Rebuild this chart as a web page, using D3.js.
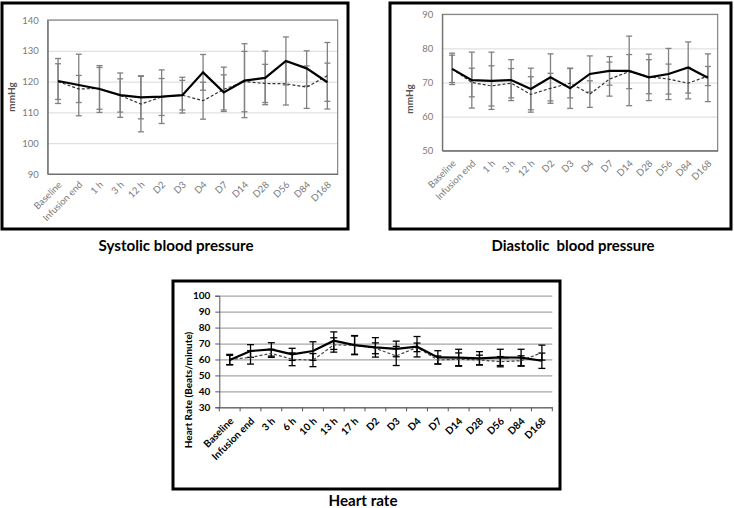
<!DOCTYPE html>
<html><head><meta charset="utf-8">
<script src="https://cdn.jsdelivr.net/npm/d3@7"></script>
<style>body{margin:0;background:#fff}svg{display:block}</style>
</head><body><svg id="c" width="734" height="508"></svg>
<script>
// ---------- DATA ----------
const bpCategories = ["Baseline","Infusion end","1 h","3 h","12 h","D2","D3","D4","D7","D14","D28","D56","D84","D168"];

const sbpSolid      = [120.2,118.9,117.6,115.6,114.9,115.1,115.6,123.0,116.5,120.3,121.2,126.7,124.3,119.8];
const sbpSolidErr   = [7.3,10.0,7.6,7.2,7.0,8.7,5.8,5.8,5.7,12.0,8.7,7.8,5.7,6.2];
const sbpDashed     = [120.0,117.6,117.8,115.5,112.7,115.0,115.6,113.8,117.5,120.0,119.4,119.3,118.2,121.9];
const sbpDashedErr  = [5.8,4.4,6.8,5.4,9.0,6.0,4.8,6.0,7.2,9.8,6.2,6.9,6.9,10.8];
const sbpTicks      = [90,100,110,120,130,140];

const dbpSolid      = [74.0,70.7,70.5,70.7,68.1,71.5,68.3,72.5,73.4,73.4,71.5,72.5,74.4,71.4];
const dbpSolidErr   = [4.6,8.2,8.4,6.0,6.1,6.9,5.9,5.3,4.2,10.2,6.8,7.5,7.5,7.0];
const dbpDashed     = [74.0,70.0,69.0,69.8,66.5,68.3,69.8,66.6,71.0,73.2,71.7,71.0,69.8,71.9];
const dbpDashedErr  = [4.0,4.2,5.9,4.3,5.2,4.4,4.3,3.9,5.0,5.0,5.0,4.4,4.6,2.8];
const dbpTicks      = [50,60,70,80,90];

const hrCategories  = ["Baseline","Infusion end","3 h","6 h","10 h","13 h","17 h","D2","D3","D4","D7","D14","D28","D56","D84","D168"];
const hrSolid       = [59.6,65.3,66.3,63.2,65.3,71.8,69.0,67.6,66.6,68.0,61.3,61.1,60.7,61.3,61.1,59.2];
const hrSolidErr    = [3.0,4.0,4.2,3.8,5.8,5.5,5.7,6.1,4.9,6.4,4.2,5.3,4.2,5.1,5.3,4.8];
const hrDashed      = [60.0,61.3,63.8,60.1,59.6,69.1,69.0,67.0,62.2,67.6,59.7,60.1,59.7,58.6,59.2,64.3];
const hrDashedErr   = [3.2,4.2,2.5,4.0,4.1,4.5,6.0,3.4,6.0,2.7,2.5,4.0,3.0,3.2,3.1,4.7];
const hrTicks       = [30,40,50,60,70,80,90,100];

const titles = ["Systolic blood pressure","Diastolic  blood pressure","Heart rate"];
const yTitles = ["mmHg","mmHg","Heart Rate (Beats/minute)"];

// ---------- DRAW ----------
const svg = d3.select("#c");
svg.append("rect").attr("width",734).attr("height",508).attr("fill","#fff");
const FONT = "Lato, 'Open Sans', sans-serif";

function drawPanel(o) {
  const g = svg.append("g");
  const x = d3.scaleBand().domain(o.cats).range([o.left, o.right]);
  const y = d3.scaleLinear().domain([o.yTicks[0], o.yTicks[o.yTicks.length-1]]).range([o.bottom, o.top]);
  const cx = c => x(c) + x.bandwidth()/2;

  // outer frame
  g.append("rect").attr("x",o.frame[0]).attr("y",o.frame[1])
    .attr("width",o.frame[2]-o.frame[0]).attr("height",o.frame[3]-o.frame[1])
    .attr("fill","none").attr("stroke","#000").attr("stroke-width",3);

  // gridlines
  const grid = g.append("g").attr("transform",`translate(${o.left},0)`)
    .call(d3.axisLeft(y).tickValues(o.yTicks).tickSize(-(o.right-o.left)).tickFormat(""));
  grid.select(".domain").remove();
  grid.selectAll("line").attr("stroke",o.gridColor).attr("stroke-width",o.gridWidth);

  // plot border (BP panels)
  if (o.plotBorder) {
    g.append("rect").attr("x",o.left).attr("y",o.top).attr("width",o.right-o.left).attr("height",o.bottom-o.top)
      .attr("fill","none").attr("stroke",o.plotBorder).attr("stroke-width",1);
  }

  // y axis labels
  const ya = g.append("g").attr("transform",`translate(${o.left},0)`)
    .call(d3.axisLeft(y).tickValues(o.yTicks).tickSize(o.yTickLen).tickPadding(o.yPad));
  ya.select(".domain").attr("stroke",o.axisColor).attr("stroke-width",1);
  ya.selectAll("line").attr("stroke",o.axisColor);
  ya.selectAll("text").attr("fill",o.labelColor).attr("font-size",o.fontSize).attr("font-family",FONT)
    .attr("font-weight",o.labelWeight);

  // x axis
  const xa = g.append("g").attr("transform",`translate(0,${o.bottom})`)
    .call(d3.axisBottom(x).tickSize(0).tickPadding(0));
  xa.select(".domain").attr("stroke",o.axisColor).attr("stroke-width",1);
  xa.selectAll("text").attr("fill",o.labelColor).attr("font-size",o.fontSize).attr("font-family",FONT)
    .attr("font-weight",o.labelWeight).attr("text-anchor","end").attr("y",0).attr("dy","0.35em")
    .attr("transform",`translate(2,${o.xLabelOff}) rotate(-45)`);
  if (o.boundaryTicks) {
    const b = o.cats.map(c => x(c)).concat([o.right]);
    g.append("g").selectAll("line").data(b).join("line")
      .attr("x1",d=>d).attr("x2",d=>d).attr("y1",o.bottom).attr("y2",o.bottom+4)
      .attr("stroke",o.axisColor).attr("stroke-width",1);
  }

  // error bars
  o.series.forEach(s => {
    const eb = g.append("g");
    o.cats.forEach((c,i) => {
      const v = s.vals[i], e = s.errs[i], xc = cx(c);
      const y1 = y(v+e), y2 = y(v-e);
      eb.append("line").attr("x1",xc).attr("x2",xc).attr("y1",y1).attr("y2",y2);
      eb.append("line").attr("x1",xc-o.cap).attr("x2",xc+o.cap).attr("y1",y1).attr("y2",y1);
      eb.append("line").attr("x1",xc-o.cap).attr("x2",xc+o.cap).attr("y1",y2).attr("y2",y2);
    });
    eb.selectAll("line").attr("stroke",o.errColor).attr("stroke-width",o.errWidth);
  });

  // lines
  o.series.slice().reverse().forEach(s => {
    const line = d3.line().x((d,i)=>cx(o.cats[i])).y(d=>y(d));
    g.append("path").datum(s.vals).attr("d",line).attr("fill","none")
      .attr("stroke",s.color).attr("stroke-width",s.width).attr("stroke-dasharray",s.dash || null);
  });

  // y title
  g.append("text").attr("transform",`translate(${o.yTitlePos[0]},${o.yTitlePos[1]}) rotate(-90)`)
    .attr("text-anchor","middle").attr("font-family",FONT).attr("font-size",o.yTitleSize)
    .attr("font-weight","bold").attr("fill",o.yTitleColor).text(o.yTitle);

  // panel title
  g.append("text").attr("x",o.titlePos[0]).attr("y",o.titlePos[1]).attr("text-anchor","middle")
    .attr("font-family",FONT).attr("font-size",16).attr("font-weight","bold").attr("fill","#000")
    .style("white-space","pre")
    .attr("textLength",o.titleLen).attr("lengthAdjust","spacingAndGlyphs").text(o.title);
}

const bpStyle = {gridColor:"#d9d9d9", gridWidth:1, plotBorder:"#6e6e6e", axisColor:"#6e6e6e",
  labelColor:"#7a7a7a", labelWeight:"normal", fontSize:9.5, yTickLen:0, yPad:9,
  errColor:"#808080", errWidth:1.3, cap:3, boundaryTicks:false, yTitleSize:10, yTitleColor:"#555"};

drawPanel(Object.assign({}, bpStyle, {
  cats: bpCategories, yTicks: sbpTicks, left:47.7, right:337.7, top:20, bottom:174,
  frame:[2,3,348,229], xLabelOff:9, yTitlePos:[15,97], yTitle:yTitles[0],
  title:titles[0], titlePos:[176,251], titleLen:155,
  series:[{vals:sbpSolid, errs:sbpSolidErr, color:"#000", width:2.2},
          {vals:sbpDashed, errs:sbpDashedErr, color:"#333", width:1.2, dash:"3,2"}]
}));

drawPanel(Object.assign({}, bpStyle, {
  cats: bpCategories, yTicks: dbpTicks, left:442.3, right:717.7, top:14.3, bottom:150.7,
  frame:[390,3,731,229], xLabelOff:11, yTitlePos:[413,99], yTitle:yTitles[1],
  title:titles[1], titlePos:[573,251], titleLen:163,
  series:[{vals:dbpSolid, errs:dbpSolidErr, color:"#000", width:2.2},
          {vals:dbpDashed, errs:dbpDashedErr, color:"#333", width:1.2, dash:"3,2"}]
}));

drawPanel({
  cats: hrCategories, yTicks: hrTicks, left:219.3, right:552.3, top:295.7, bottom:407.3,
  frame:[173,281,560,489], gridColor:"#a6a6a6", gridWidth:1.3, plotBorder:null, axisColor:"#555",
  labelColor:"#000", labelWeight:"bold", fontSize:10, yTickLen:4, yPad:5,
  errColor:"#000", errWidth:1.3, cap:3.5, boundaryTicks:true, xLabelOff:12,
  yTitlePos:[192,390], yTitle:yTitles[2], yTitleSize:10, yTitleColor:"#000",
  title:titles[2], titlePos:[363,506], titleLen:69,
  series:[{vals:hrSolid, errs:hrSolidErr, color:"#000", width:2.2},
          {vals:hrDashed, errs:hrDashedErr, color:"#444", width:1.2, dash:"3,2"}]
});
</script></body></html>
